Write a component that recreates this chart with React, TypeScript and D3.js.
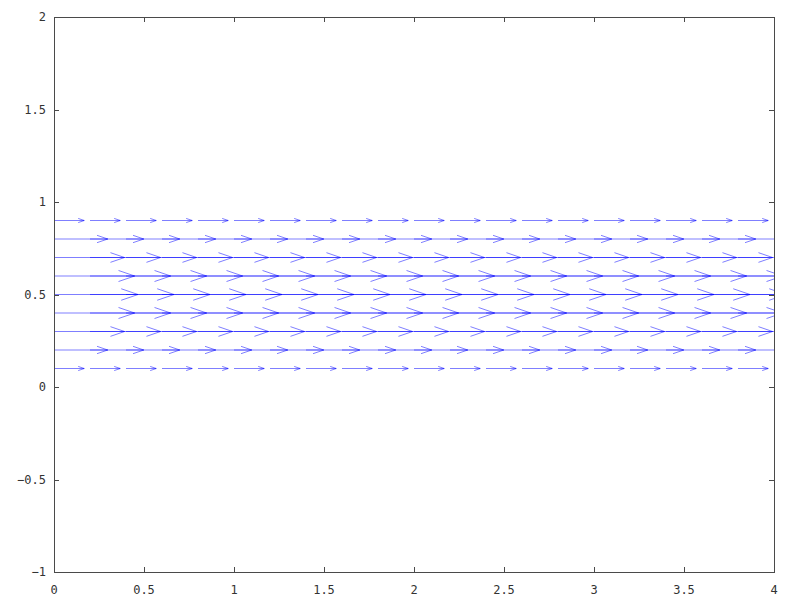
import React from "react";
import * as d3 from "d3";

const xGrid = [0, 0.2, 0.4, 0.6, 0.8, 1, 1.2, 1.4, 1.6, 1.8, 2, 2.2, 2.4, 2.6, 2.8, 3, 3.2, 3.4, 3.6, 3.8];
const yGrid = [0.1, 0.2, 0.3, 0.4, 0.5, 0.6, 0.7, 0.8, 0.9];
const uValues = [0.09, 0.16, 0.21, 0.24, 0.25, 0.24, 0.21, 0.16, 0.09];
const xTicks = [0, 0.5, 1, 1.5, 2, 2.5, 3, 3.5, 4];
const yTicks = [-1, -0.5, 0, 0.5, 1, 1.5, 2];

const W = 800, H = 600;
const L = 54, R = 774, T = 17, B = 572;
const arrowScale = 1.867;
const headSize = 0.2;

export default function App() {
  const x = d3.scaleLinear().domain([0, 4]).range([L, R]);
  const y = d3.scaleLinear().domain([-1, 2]).range([B, T]);
  const fmt = (v: number) => String(v);
  const arrows: JSX.Element[] = [];
  yGrid.forEach((yv, i) => {
    const u = uValues[i] * arrowScale;
    xGrid.forEach((xv, j) => {
      const xe = xv + u;
      const xt = xv + u * (1 - headSize);
      const hw = (u * headSize) / 3;
      arrows.push(
        <g key={`${i}-${j}`}>
          <line x1={x(xv)} y1={y(yv)} x2={x(xe)} y2={y(yv)} />
          <polyline points={`${x(xt)},${y(yv - hw)} ${x(xe)},${y(yv)} ${x(xt)},${y(yv + hw)}`} fill="none" />
        </g>
      );
    });
  });
  const axisColor = "#4a4a4a";
  return (
    <svg width={W} height={H} style={{ position: "absolute", left: 0, top: 0, background: "#fff" }}>
      <defs>
        <clipPath id="plotclip">
          <rect x={L} y={T} width={R - L} height={B - T} />
        </clipPath>
      </defs>
      <g clipPath="url(#plotclip)" stroke="#0000ff" strokeOpacity={0.5} strokeWidth={1}>
        {arrows}
      </g>
      <g stroke={axisColor} strokeWidth={1} fill="none" shapeRendering="crispEdges">
        <rect x={L + 0.5} y={T + 0.5} width={R - L} height={B - T} />
        {xTicks.map((t) => (
          <g key={`xt${t}`}>
            <line x1={x(t) + 0.5} x2={x(t) + 0.5} y1={B} y2={B - 5} />
            <line x1={x(t) + 0.5} x2={x(t) + 0.5} y1={T} y2={T + 5} />
          </g>
        ))}
        {yTicks.map((t) => (
          <g key={`yt${t}`}>
            <line x1={L} x2={L + 5} y1={y(t) + 0.5} y2={y(t) + 0.5} />
            <line x1={R} x2={R - 5} y1={y(t) + 0.5} y2={y(t) + 0.5} />
          </g>
        ))}
      </g>
      <g fill="#333" fontFamily="DejaVu Sans Mono" fontSize={12}>
        {xTicks.map((t) => (
          <text key={`xl${t}`} x={x(t)} y={B + 22} textAnchor="middle">
            {fmt(t)}
          </text>
        ))}
        {yTicks.map((t) => (
          <text key={`yl${t}`} x={L - 8} y={y(t) + 4} textAnchor="end">
            {t < 0 ? "\u2212" + fmt(-t) : fmt(t)}
          </text>
        ))}
      </g>
    </svg>
  );
}
